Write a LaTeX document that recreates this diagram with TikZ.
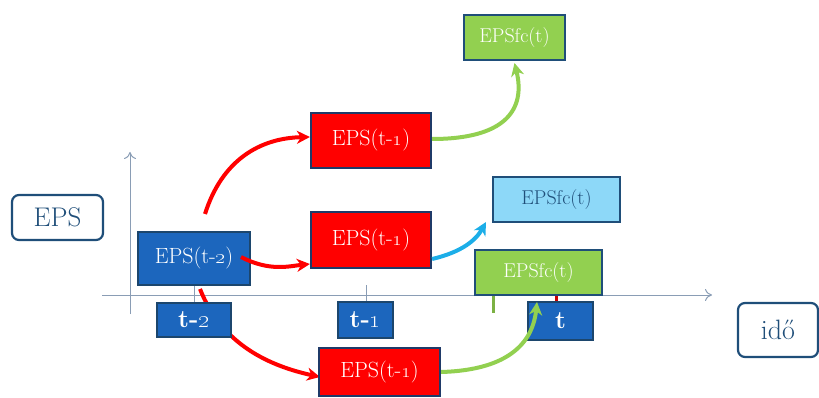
\documentclass[tikz,border=0pt]{standalone}
\usetikzlibrary{arrows.meta}
\definecolor{navy}{HTML}{1F3A68}
\definecolor{darkb}{HTML}{1F4E79}
\definecolor{boxblue}{HTML}{1C66BD}
\definecolor{axisc}{HTML}{8A9DB5}
\definecolor{redc}{HTML}{FF0000}
\definecolor{greenc}{HTML}{92D050}
\definecolor{lightb}{HTML}{8DD8F8}
\definecolor{arrowb}{HTML}{1CAEE8}
\newcommand{\osn}[1]{\oldstylenums{#1}}
\tikzset{
  base/.style={draw, line width=2.2pt, inner sep=0pt, align=center},
  labelbox/.style={base, draw=darkb, fill=white, rounded corners=7pt, text=darkb},
  bluebox/.style={base, draw=darkb!90!black, fill=boxblue, text=white, line width=1.6pt},
  redbox/.style={base, draw=navy, fill=redc, text=white, font=\fontsize{22}{24}\selectfont},
  greenbox/.style={base, draw=darkb, fill=greenc, text=white, font=\fontsize{20}{22}\selectfont},
  ltbox/.style={base, draw=darkb, fill=lightb, text=darkb, font=\fontsize{20}{22}\selectfont},
  timebox/.style={bluebox, font=\fontsize{25}{27}\bfseries\selectfont},
  axis/.style={draw=axisc, line width=1pt, -{To[length=7pt,width=12pt]}},
  tick/.style={draw=axisc, line width=1pt},
  flow/.style={line width=4pt, -{Stealth[length=13pt,width=13pt,inset=4pt]}},
}
\begin{document}
\begin{tikzpicture}[x=1pt,y=-1pt]
\useasboundingbox (0,0) rectangle (819,398);

% axes
\draw[axis] (130,314) -- (130,152);
\draw[axis] (102,295) -- (712,295);

% time ticks
\draw[tick] (194,285) -- (194,303);
\draw[tick] (366,285) -- (366,302);
\draw[draw=greenc!85!black, line width=3pt] (493,295) -- (493,313);
\draw[draw=redc!80!black, line width=3pt] (556,295) -- (556,303);

% axis labels
\node[labelbox, minimum width=91pt, minimum height=45pt, font=\fontsize{27}{29}\selectfont] (epsl) at (57.5,217.5) {EPS};
\node[labelbox, minimum width=80pt, minimum height=54pt, font=\fontsize{28}{30}\selectfont] (ido) at (778,330) {idő};

% downward branch runs behind the t-2 box
\draw[flow, redc] (200,289) .. controls (222,345) and (270,366) .. (320,377);

% source value
\node[bluebox, minimum width=112pt, minimum height=53pt, font=\fontsize{22}{24}\selectfont] (e2) at (194,258.5) {EPS(t-\osn{2})};

% time boxes
\node[timebox, minimum width=74pt, minimum height=34pt] (t2) at (194,320) {t-\osn{2}};
\node[timebox, minimum width=55pt, minimum height=36pt] (t1) at (365.5,320) {t-\osn{1}};
\node[timebox, minimum width=65pt, minimum height=38pt] (t) at (560.5,321) {t};

% t-1 estimates
\node[redbox, minimum width=120pt, minimum height=55pt] (r1) at (371,140.5) {EPS(t-\osn{1})};
\node[redbox, minimum width=120pt, minimum height=56pt] (r2) at (371,240) {EPS(t-\osn{1})};
\node[redbox, minimum width=121pt, minimum height=48pt] (r3) at (379.5,372) {EPS(t-\osn{1})};

% forecasts
\node[greenbox, minimum width=101pt, minimum height=45pt] (g1) at (514.5,37.5) {EPSfc(t)};
\node[ltbox, minimum width=127pt, minimum height=45pt] (lb) at (556.5,199.5) {EPSfc(t)};
\node[greenbox, minimum width=127pt, minimum height=45pt] (g2) at (538.5,272.5) {EPSfc(t)};

% branches from EPS(t-2)
\draw[flow, redc] (205,214) .. controls (222,160) and (260,138) .. (r1.west |- 0,137);
\draw[flow, redc] (241,257) .. controls (270,272) and (290,266) .. (r2.west |- 0,264);

% forecast arrows
\draw[flow, greenc] (r1.east |- 0,139) .. controls (505,139) and (526,110) .. (g1.south |- 0,63);
\draw[flow, arrowb] (r2.east |- 0,259) .. controls (462,252) and (476,240) .. (486,222);
\draw[flow, greenc] (r3.east |- 0,372) .. controls (512,370) and (533,340) .. (537,302);
\end{tikzpicture}
\end{document}
